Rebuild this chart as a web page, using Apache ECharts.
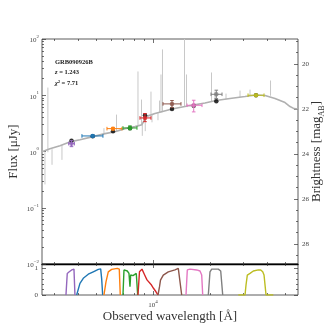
<!DOCTYPE html>
<html>
<head>
<meta charset="utf-8">
<script src="https://cdn.jsdelivr.net/npm/echarts@6/dist/echarts.min.js"></script>
<style>
html, body { margin: 0; padding: 0; background: #fff; }
#chart { width: 332px; height: 332px; }
</style>
</head>
<body>
<div id="chart"></div>
<script>
// model SED continuum, wavelength [A] and flux [uJy]
var sedWave = [2588, 2851, 3221, 3683, 4111, 4816, 5572, 6295, 7112, 8032, 8746, 8962, 9182, 10247,
    12605, 15702, 18843, 21544, 25550, 30680, 35075, 39140, 44210, 49930, 53070, 55720, 58480];
var sedFlux = [0.99, 1.12, 1.27, 1.50, 1.62, 1.84, 2.08, 2.25, 2.55, 2.77, 3.00, 3.54, 4.17, 4.72,
    5.68, 6.55, 7.26, 8.05, 8.73, 9.48, 10.08, 9.88, 8.73, 7.41, 6.29, 5.79, 5.68];

// narrow features of the SED (emission spikes and absorption dips)
var lineWave = [2780, 5504, 6412, 8330, 8694, 9759, 10824, 11022, 11226, 14678, 15041, 20394, 21281,
    24335, 28862, 32600, 41847, 2683, 2924, 3300, 8780, 9100, 9879, 10627];
var lineBase = [0.97, 2.08, 2.25, 2.9, 3.0, 4.6, 4.9, 4.9, 5.0, 6.2, 6.2, 7.7, 7.9,
    8.5, 9.2, 10.0, 9.8, 0.97, 1.1, 1.3, 3.0, 3.6, 4.6, 4.8];
var lineTip = [13.7, 2.6, 4.53, 26.5, 8.38, 11.6, 8.05, 23.4, 65.3, 100, 23.4, 25.4, 11.6,
    10.7, 12.1, 12.6, 18.3, 0.26, 0.58, 0.71, 1.9, 2.3, 3.3, 3.6];

// photometry
var bandColors = ["#9467bd", "#1f77b4", "#ff7f0e", "#2ca02c", "#d62728", "#8c564b", "#e377c2", "#7f7f7f", "#bcbd22"];
var obsWave = [3706, 4797, 6143, 7555, 9072, 12605, 16421, 21623, 35075];
var obsWaveLo = [3580, 4210, 5710, 6939, 8535, 11294, 15135, 20272, 31813];
var obsWaveHi = [3840, 5437, 6855, 8228, 9759, 14063, 18168, 23182, 38660];
var obsFlux = [1.38, 1.89, 2.55, 2.62, 3.95, 7.02, 6.63, 10.4, 10.0];
var obsFluxLo = [1.22, 1.80, 2.43, 2.44, 3.39, 6.04, 5.06, 8.73, 9.6];
var obsFluxHi = [1.56, 1.98, 2.68, 2.85, 4.72, 8.05, 8.15, 12.3, 10.4];
var modelFlux = [1.56, 1.87, 2.28, 2.60, 4.40, 5.72, 6.50, 7.82, 9.96];

// filter transmission curves
var filtUWave = [3465, 3520, 3607, 3714, 3760, 3820, 3866];
var filtUTrans = [0, 0.80, 0.86, 0.93, 0.90, 0.96, 0];
var filtGWave = [3947, 4109, 4278, 4547, 4832, 5136, 5288, 5353, 5418];
var filtGTrans = [0, 0.43, 0.62, 0.77, 0.86, 0.95, 0.97, 0.6, 0];
var filtRWave = [5505, 5641, 5801, 6046, 6473, 6633, 6714];
var filtRTrans = [0, 0.49, 0.86, 0.95, 0.99, 0.96, 0];
var filtIWave = [6938, 7024, 7171, 7312, 7465, 7556, 7621, 7838, 8031, 8159, 8299];
var filtITrans = [0, 0.93, 0.99, 0.89, 0.80, 0.31, 0.74, 0.72, 0.68, 0.80, 0];
var filtZWave = [8330, 8483, 8746, 8962, 9127, 9295, 9524, 9819, 10061, 10372, 10628];
var filtZTrans = [0, 0.86, 0.96, 0.80, 0.68, 0.56, 0.49, 0.37, 0.25, 0.12, 0];
var filtJWave = [10628, 10824, 10957, 11337, 12049, 13074, 13610, 13895, 14186];
var filtJTrans = [0, 0.3, 0.55, 0.74, 0.86, 0.93, 0.99, 0.96, 0];
var filtHWave = [14949, 15188, 15695, 17030, 17728, 18099, 18322];
var filtHTrans = [0, 0.93, 0.96, 0.93, 0.89, 0.74, 0];
var filtKWave = [19616, 20025, 20444, 22157, 22814, 23378];
var filtKTrans = [0, 0.86, 0.96, 0.96, 0.89, 0];
var filtIracWave = [28270, 30673, 31050, 31547, 32602, 33940, 34650, 36071, 37141, 38058, 38665, 39619, 43302];
var filtIracTrans = [0, 0, 0.37, 0.74, 0.80, 0.89, 0.86, 0.93, 0.93, 0.86, 0.74, 0, 0];

// axes
var waveMin = 2588, waveMax = 58480;
var waveMajor = [10000];
var waveMinor = [3000, 4000, 5000, 6000, 7000, 8000, 9000, 20000, 30000, 40000, 50000];
var fluxMin = 0.01, fluxMax = 100;
var magMajor = [20, 22, 24, 26, 28];
var magMinor = [19, 19.5, 20.5, 21, 21.5, 22.5, 23, 23.5, 24.5, 25, 25.5, 26.5, 27, 27.5, 28.5];
var transMajor = [0, 1];
var transMinor = [0.2, 0.4, 0.6, 0.8];

var FONT = "Liberation Serif";
var L = Math.log10;

function pts(w, f) {
    return w.map(function(v, i) {
        return [L(v), L(f[i])];
    });
}

function minorDecades(lo, hi) {
    var list = [];
    for (var e = lo; e < hi; e++) {
        for (var k = 2; k < 10; k++) {
            list.push(e + L(k));
        }
    }
    return list;
}

var supRich = {
    b: { fontFamily: FONT, fontSize: 7, color: "#444", lineHeight: 10, verticalAlign: "bottom" },
    s: { fontFamily: FONT, fontSize: 5, color: "#444", lineHeight: 10, verticalAlign: "top" }
};

function powLabel(v) {
    var e = Math.round(v);
    return "{b|10}{s|" + (e < 0 ? "\u2212" + (-e) : e) + "}";
}

function tick(len, values) {
    return {
        show: true,
        inside: true,
        length: len,
        customValues: values,
        lineStyle: { color: "#333", width: 0.7 }
    };
}

function xAx(grid, pos, values, len, label) {
    return {
        type: "value",
        gridIndex: grid,
        position: pos,
        min: L(waveMin),
        max: L(waveMax),
        axisLine: { show: false, onZero: false },
        splitLine: { show: false },
        axisTick: tick(len, values.map(L)),
        axisLabel: label || { show: false }
    };
}

function yAx(grid, pos, min, max, values, len, label, inverse) {
    return {
        type: "value",
        gridIndex: grid,
        position: pos,
        min: min,
        max: max,
        inverse: !!inverse,
        axisLine: { show: false, onZero: false },
        splitLine: { show: false },
        axisTick: tick(len, values),
        axisLabel: label || { show: false }
    };
}

var xAxes = [
    // main panel
    xAx(0, "bottom", waveMajor, 4),
    xAx(0, "bottom", waveMinor, 2),
    xAx(0, "top", waveMajor, 4),
    xAx(0, "top", waveMinor, 2),
    // filter panel
    xAx(1, "bottom", waveMajor, 4, {
        show: true,
        customValues: waveMajor.map(L),
        margin: 4,
        formatter: powLabel,
        rich: supRich
    }),
    xAx(1, "bottom", waveMinor, 2),
    xAx(1, "top", waveMajor, 4),
    xAx(1, "top", waveMinor, 2)
];
xAxes[0].axisLine = { show: true, onZero: false, lineStyle: { color: "#000", width: 1.3 } };
xAxes[4].name = "Observed wavelength [\u00c5]";
xAxes[4].nameLocation = "middle";
xAxes[4].nameGap = 15;
xAxes[4].nameMoveOverlap = false;
xAxes[4].nameTextStyle = { fontFamily: FONT, fontSize: 13, color: "#333" };

var fluxMajor = [-2, -1, 0, 1, 2];
var yAxes = [
    yAx(0, "left", L(fluxMin), L(fluxMax), fluxMajor, 4, {
        show: true,
        customValues: fluxMajor,
        margin: 3,
        formatter: powLabel,
        rich: supRich
    }),
    yAx(0, "left", L(fluxMin), L(fluxMax), minorDecades(-2, 2), 2),
    yAx(0, "right", 23.9 - 2.5 * L(fluxMax), 23.9 - 2.5 * L(fluxMin), magMajor, 4, {
        show: true,
        customValues: magMajor,
        margin: 4,
        fontFamily: FONT,
        fontSize: 7,
        color: "#444"
    }, true),
    yAx(0, "right", 23.9 - 2.5 * L(fluxMax), 23.9 - 2.5 * L(fluxMin), magMinor, 2, null, true),
    yAx(1, "left", 0, 1.15, transMajor, 4, {
        show: true,
        customValues: transMajor,
        margin: 4,
        fontFamily: FONT,
        fontSize: 7,
        color: "#444"
    }),
    yAx(1, "left", 0, 1.15, transMinor, 2),
    yAx(1, "right", 0, 1.15, transMajor, 4),
    yAx(1, "right", 0, 1.15, transMinor, 2)
];
yAxes[0].name = "Flux [\u03bcJy]";
yAxes[0].nameLocation = "middle";
yAxes[0].nameRotate = 90;
yAxes[0].nameGap = 22;
yAxes[0].nameMoveOverlap = false;
yAxes[0].nameTextStyle = { fontFamily: FONT, fontSize: 13, color: "#333" };
yAxes[2].name = "{a|Brightness [mag}{b|AB}{a|]}";
yAxes[2].nameLocation = "middle";
yAxes[2].nameRotate = 90;
yAxes[2].nameGap = 12;
yAxes[2].nameMoveOverlap = false;
yAxes[2].nameTextStyle = {
    rich: {
        a: { fontFamily: FONT, fontSize: 13, color: "#333", lineHeight: 16, verticalAlign: "top" },
        b: { fontFamily: FONT, fontSize: 8, color: "#333", lineHeight: 16, verticalAlign: "bottom" }
    }
};

var filters = [
    [filtUWave, filtUTrans], [filtGWave, filtGTrans], [filtRWave, filtRTrans],
    [filtIWave, filtITrans], [filtZWave, filtZTrans], [filtJWave, filtJTrans],
    [filtHWave, filtHTrans], [filtKWave, filtKTrans], [filtIracWave, filtIracTrans]
];

function seg(a, b, color, w) {
    return {
        type: "line",
        shape: { x1: a[0], y1: a[1], x2: b[0], y2: b[1] },
        style: { stroke: color, lineWidth: w }
    };
}

var series = [
    {
        type: "custom",
        xAxisIndex: 0,
        yAxisIndex: 0,
        silent: true,
        z: 1,
        clip: true,
        data: lineWave.map(function(w, i) {
            return [L(w), L(lineBase[i]), L(lineTip[i])];
        }),
        encode: { x: 0, y: [1, 2] },
        renderItem: function(params, api) {
            var a = api.coord([api.value(0), api.value(1)]);
            var b = api.coord([api.value(0), api.value(2)]);
            return seg(a, b, "#c8c8c8", 1);
        }
    },
    {
        type: "line",
        xAxisIndex: 0,
        yAxisIndex: 0,
        silent: true,
        z: 2,
        symbol: "none",
        data: pts(sedWave, sedFlux),
        lineStyle: { color: "#b0b0b0", width: 1.6 }
    },
    {
        type: "scatter",
        xAxisIndex: 0,
        yAxisIndex: 0,
        z: 3,
        symbolSize: 4.5,
        data: pts(obsWave, modelFlux),
        itemStyle: { color: "#000" }
    },
    {
        type: "custom",
        xAxisIndex: 0,
        yAxisIndex: 0,
        z: 4,
        data: obsWave.map(function(w, i) {
            return [L(w), L(obsFlux[i]), L(obsWaveLo[i]), L(obsWaveHi[i]), L(obsFluxLo[i]), L(obsFluxHi[i])];
        }),
        encode: { x: [0, 2, 3], y: [1, 4, 5] },
        renderItem: function(params, api) {
            var c = bandColors[params.dataIndex];
            var xl = api.coord([api.value(2), api.value(1)]);
            var xh = api.coord([api.value(3), api.value(1)]);
            var yl = api.coord([api.value(0), api.value(4)]);
            var yh = api.coord([api.value(0), api.value(5)]);
            var cap = 1.8;
            return {
                type: "group",
                children: [
                    seg(xl, xh, c, 1),
                    seg(yl, yh, c, 1),
                    seg([xl[0], xl[1] - cap], [xl[0], xl[1] + cap], c, 1),
                    seg([xh[0], xh[1] - cap], [xh[0], xh[1] + cap], c, 1),
                    seg([yl[0] - cap, yl[1]], [yl[0] + cap, yl[1]], c, 1),
                    seg([yh[0] - cap, yh[1]], [yh[0] + cap, yh[1]], c, 1)
                ]
            };
        }
    },
    {
        type: "scatter",
        xAxisIndex: 0,
        yAxisIndex: 0,
        z: 5,
        symbolSize: 4.5,
        data: pts(obsWave, obsFlux),
        itemStyle: {
            color: function(p) {
                return bandColors[p.dataIndex];
            }
        }
    }
];

filters.forEach(function(f, i) {
    series.push({
        type: "line",
        xAxisIndex: 4,
        yAxisIndex: 4,
        silent: true,
        symbol: "none",
        data: f[0].map(function(w, j) {
            return [L(w), f[1][j]];
        }),
        lineStyle: { color: bandColors[i], width: 1.4 }
    });
});

var chart = echarts.init(document.getElementById("chart"), null, { renderer: "canvas" });
chart.setOption({
    animation: false,
    backgroundColor: "#fff",
    title: {
        left: 50,
        top: 52,
        text: "{n|GRB090926B}\n{i|z}{n| = 1.243}\n{i|\u03c7}{n|\u00b2 = 7.71}",
        textStyle: {
            rich: {
                n: { fontFamily: FONT, fontSize: 6.5, lineHeight: 10.5, color: "#222" },
                i: { fontFamily: FONT, fontSize: 6.5, lineHeight: 10.5, color: "#222", fontStyle: "italic" }
            }
        }
    },
    grid: [
        { left: 42, top: 39, width: 256, height: 225, show: true, borderColor: "#333", borderWidth: 0.8, outerBoundsMode: "none" },
        { left: 42, top: 264, width: 256, height: 31, show: true, borderColor: "#333", borderWidth: 0.8, outerBoundsMode: "none" }
    ],
    xAxis: xAxes,
    yAxis: yAxes,
    series: series
});
</script>
</body>
</html>
